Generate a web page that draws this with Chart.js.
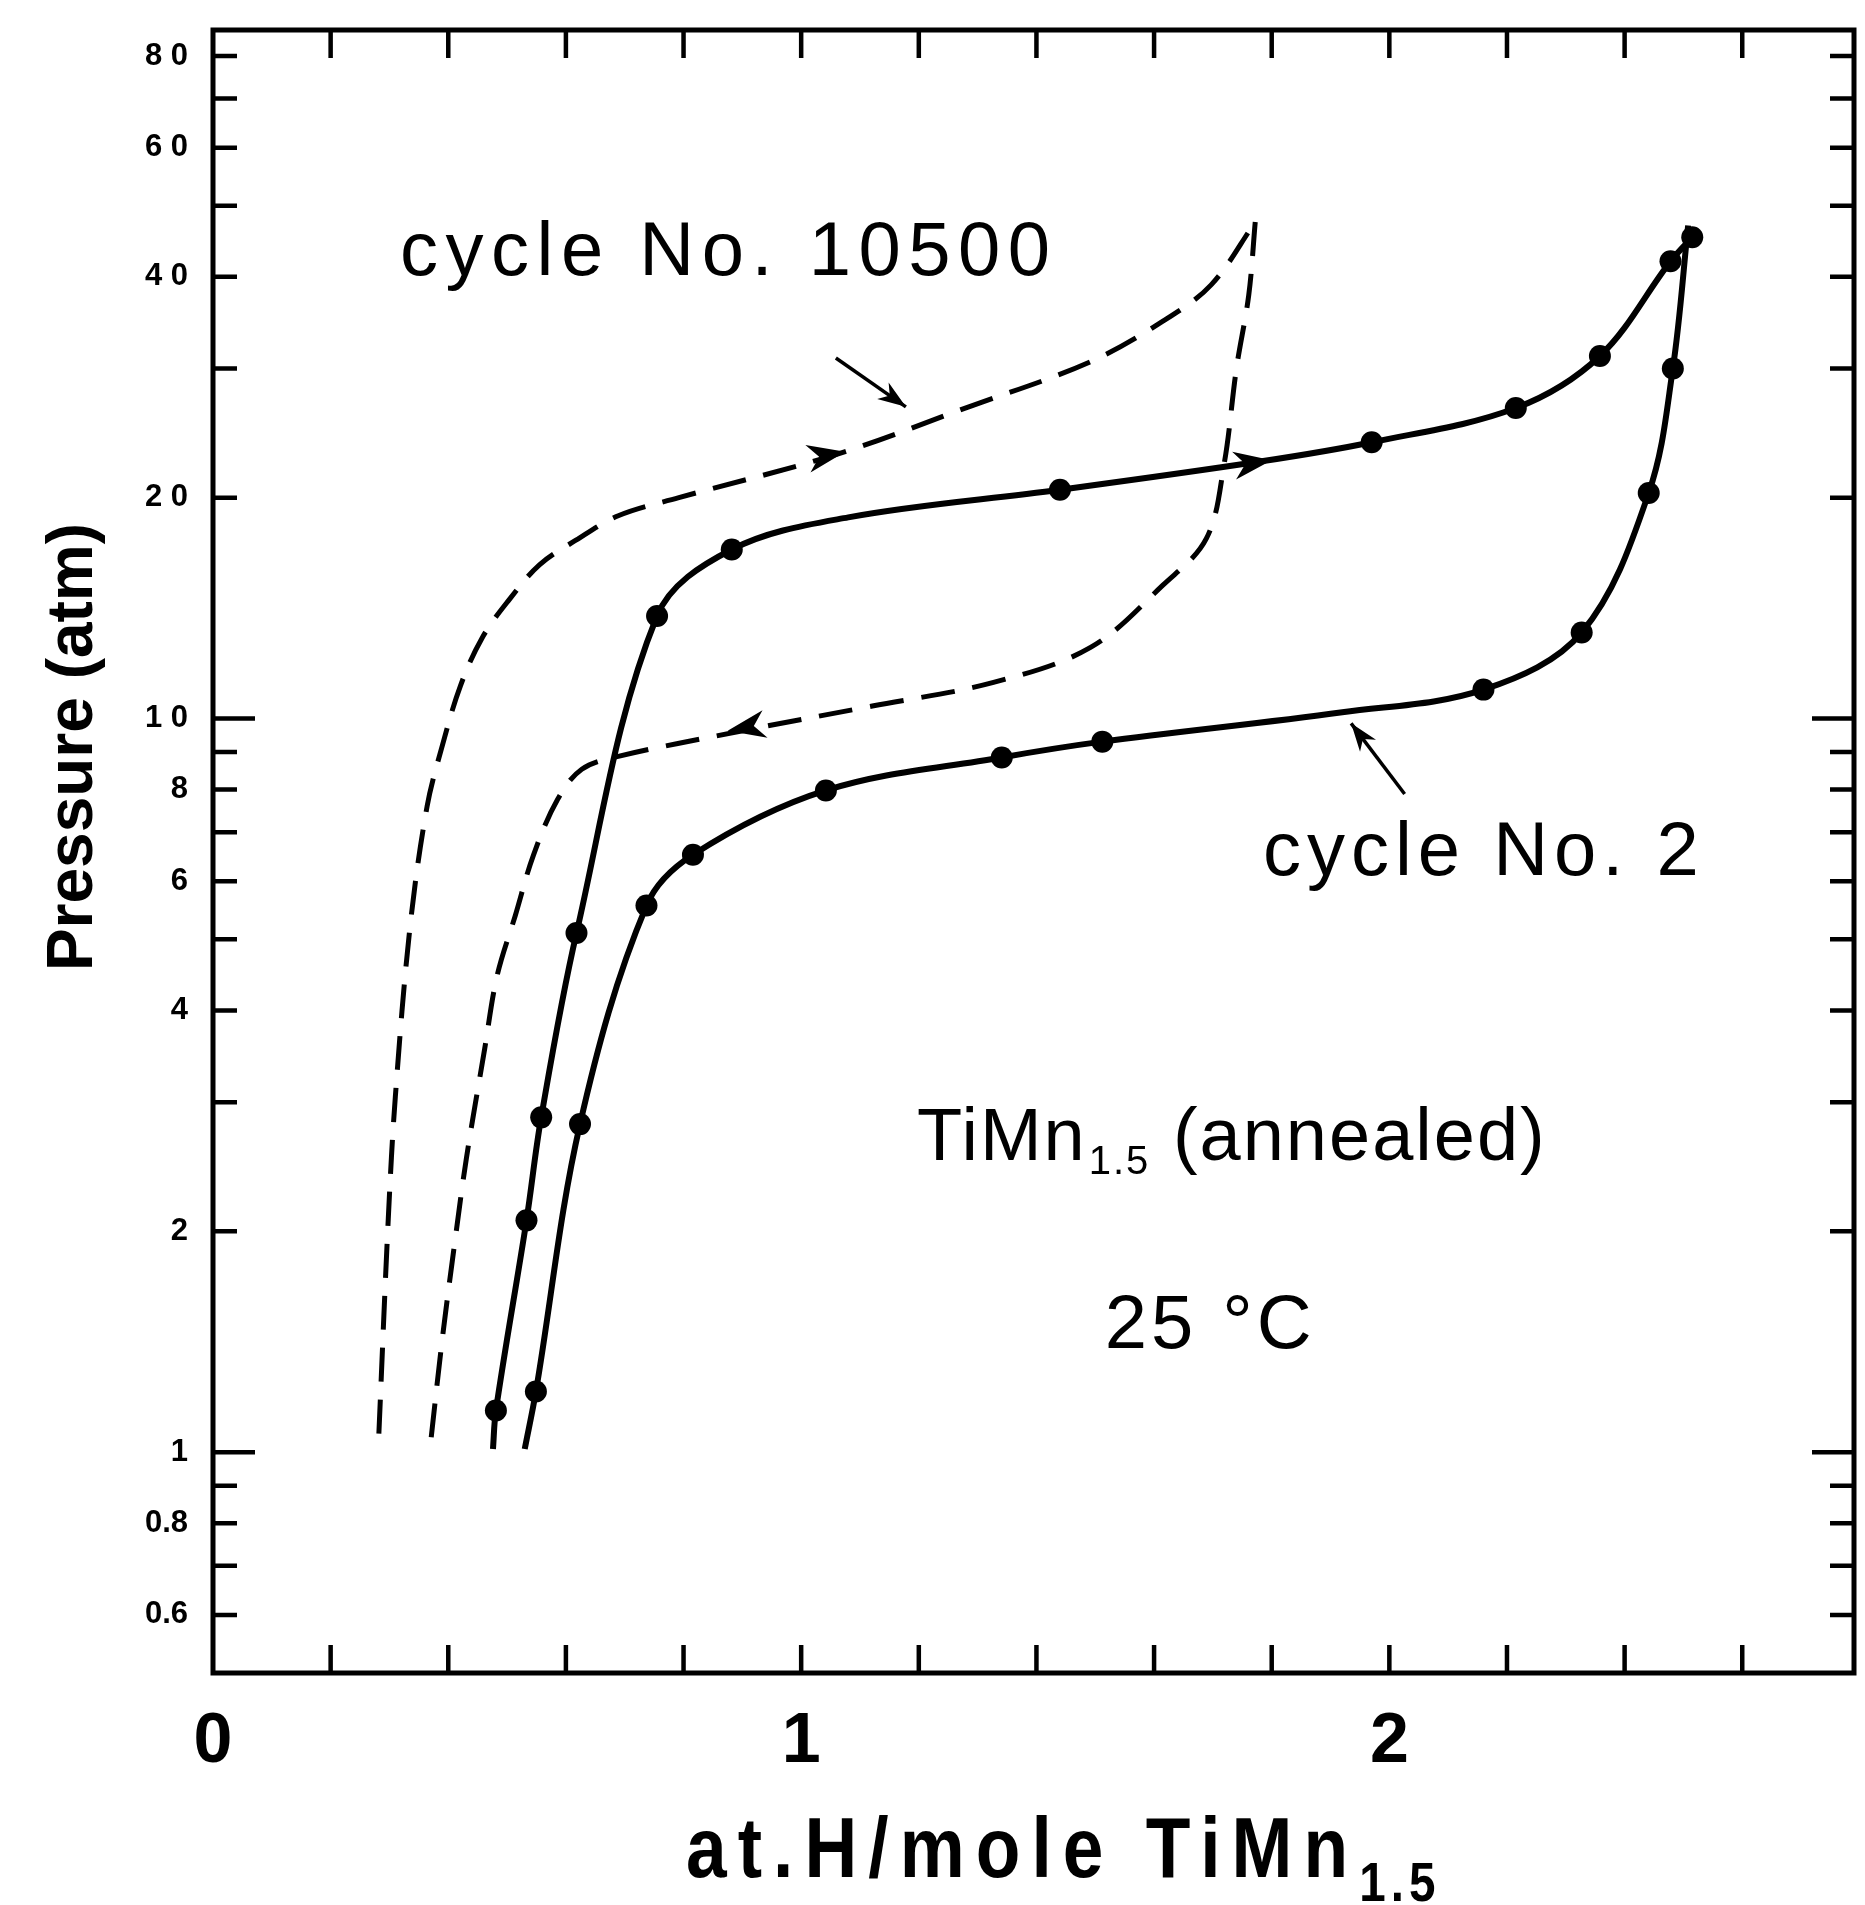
<!DOCTYPE html>
<html>
<head>
<meta charset="utf-8">
<title>TiMn1.5 P-C isotherms</title>
<script src="https://cdn.jsdelivr.net/npm/chart.js@4/dist/chart.umd.min.js"></script>
<style>
  html, body { margin: 0; padding: 0; background: #fff; }
  #wrap { width: 1865px; height: 1905px; }
</style>
</head>
<body>
<div id="wrap"><canvas id="chart" width="1865" height="1905"></canvas></div>
<script>
// cycle No. 2, absorption (solid, upper branch); dot = 1 where a data marker is drawn
const abs2X   = [0.476, 0.481, 0.533, 0.558, 0.618, 0.755, 0.882, 1.08, 1.440, 1.78, 1.970, 2.215, 2.358, 2.478, 2.515];
const abs2P   = [1.01,  1.14,  2.07,  2.86,  5.10,  13.8,  17.0,  18.8, 20.5,  22.4, 23.8,  26.5,  31.2,  42.0,  45.3];
const abs2Dot = [0,     1,     1,     1,     1,     1,     1,     0,    1,     0,    1,     1,     1,     1,     1];

// cycle No. 2, desorption (solid, lower branch)
const des2X   = [2.508, 2.482, 2.441, 2.327, 2.160, 1.92, 1.512, 1.341, 1.042, 0.816, 0.737, 0.624, 0.549, 0.530];
const des2P   = [47.0,  30.0,  20.3,  13.1,  10.95, 10.2, 9.30,  8.85,  7.98,  6.52,  5.56,  2.80,  1.21,  1.01];
const des2Dot = [0,     1,     1,     1,     1,     0,    1,     1,     1,     1,     1,     1,     1,     0];

// cycle No. 10500, absorption (dashed, upper branch)
const abs10500X = [0.282, 0.298, 0.310, 0.335, 0.364, 0.390, 0.421, 0.458, 0.503, 0.555, 0.617, 0.689, 0.792, 1.059, 1.285, 1.49, 1.615, 1.697, 1.772];
const abs10500P = [1.06,  2.08,  3.05,  5.20,  7.59,  9.19,  11.1,  12.9,  14.5,  16.2,  17.5,  18.9,  20.0,  22.9,  26.6,  30.6, 34.8,  39.0,  47.5];

// cycle No. 10500, desorption (dashed, lower branch)
const des10500X = [1.772, 1.761, 1.740, 1.719, 1.689, 1.615, 1.492, 1.327, 1.121, 0.894, 0.689, 0.627, 0.586, 0.545, 0.514, 0.483, 0.462, 0.431, 0.411, 0.390, 0.370];
const des10500P = [47.5,  37.8,  30.0,  22.2,  17.6,  15.2,  12.5,  11.2,  10.4,  9.60,  8.88,  8.53,  7.76,  6.52,  5.39,  4.46,  3.55,  2.52,  1.93,  1.43,  1.03];

// axes
const xTickValues = [0, 0.2, 0.4, 0.6, 0.8, 1, 1.2, 1.4, 1.6, 1.8, 2, 2.2, 2.4, 2.6];
const xTickLabels = ['0', '', '', '', '', '1', '', '', '', '', '2', '', '', ''];
const yTickValues = [0.6, 0.7, 0.8, 0.9, 1, 2, 3, 4, 5, 6, 7, 8, 9, 10, 20, 30, 40, 50, 60, 70, 80];
const yTickLabels = ['0.6', '', '0.8', '', '1', '2', '', '4', '', '6', '', '8', '', '1 0', '2 0', '', '4 0', '', '6 0', '', '8 0'];

// direction arrows on the curves (tip, and a point behind it on the curve)
const arrowTipX  = [1.80, 1.075, 0.875];
const arrowTipP  = [22.5, 23.1,  9.62];
const arrowTailX = [1.68, 0.96,  0.99];
const arrowTailP = [21.8, 22.2,  10.0];

// label pointers
const pointerFromX = [1.059, 2.026];
const pointerFromP = [31.0,  7.89];
const pointerToX   = [1.178, 1.935];
const pointerToP   = [26.6,  9.85];

// labels inside the plot
const noteText = ['cycle No. 10500', 'cycle No. 2', '25 °C'];
const noteX    = [0.318, 1.785, 1.516];
const noteP    = [40.2,  6.12,  1.385];

const FONT = '"Liberation Sans", Arial, sans-serif';

function pts(xs, ps) {
    return xs.map((x, i) => ({ x: x, y: ps[i] }));
}

function noPadding(scale) {
    scale.paddingTop = 0;
    scale.paddingBottom = 0;
    scale.paddingLeft = 0;
    scale.paddingRight = 0;
}

function arrowHead(ctx, tx, ty, bx, by, len, half) {
    const d = Math.hypot(tx - bx, ty - by) || 1;
    const ux = (tx - bx) / d, uy = (ty - by) / d;
    ctx.beginPath();
    ctx.moveTo(tx, ty);
    ctx.lineTo(tx - ux * len - uy * half, ty - uy * len + ux * half);
    ctx.lineTo(tx - ux * len * 0.7, ty - uy * len * 0.7);
    ctx.lineTo(tx - ux * len + uy * half, ty - uy * len - ux * half);
    ctx.closePath();
    ctx.fill();
}

const inkPlugin = {
    id: 'ink',
    afterDraw(chart) {
        const ctx = chart.ctx;
        const a = chart.chartArea;
        const xs = chart.scales.x, ys = chart.scales.y;
        ctx.save();
        ctx.strokeStyle = '#000';
        ctx.fillStyle = '#000';
        ctx.lineCap = 'butt';

        // frame
        ctx.lineWidth = 5;
        ctx.strokeRect(a.left, a.top, a.right - a.left, a.bottom - a.top);

        // inward ticks on all four sides
        ctx.lineWidth = 4.5;
        ctx.beginPath();
        xs.ticks.forEach(t => {
            const px = xs.getPixelForValue(t.value);
            if (px < a.left + 3) return;
            ctx.moveTo(px, a.bottom); ctx.lineTo(px, a.bottom - 28);
            ctx.moveTo(px, a.top);    ctx.lineTo(px, a.top + 28);
        });
        ys.ticks.forEach(t => {
            const py = ys.getPixelForValue(t.value);
            const len = (t.value === 1 || t.value === 10) ? 42 : 24;
            ctx.moveTo(a.left, py);  ctx.lineTo(a.left + len, py);
            ctx.moveTo(a.right, py); ctx.lineTo(a.right - len, py);
        });
        ctx.stroke();

        // arrows along the curves
        arrowTipX.forEach((v, i) => {
            arrowHead(ctx,
                xs.getPixelForValue(v), ys.getPixelForValue(arrowTipP[i]),
                xs.getPixelForValue(arrowTailX[i]), ys.getPixelForValue(arrowTailP[i]),
                38, 14);
        });

        // pointers from the labels
        ctx.lineWidth = 3.5;
        pointerFromX.forEach((v, i) => {
            const fx = xs.getPixelForValue(v), fy = ys.getPixelForValue(pointerFromP[i]);
            const tx = xs.getPixelForValue(pointerToX[i]), ty = ys.getPixelForValue(pointerToP[i]);
            ctx.beginPath(); ctx.moveTo(fx, fy); ctx.lineTo(tx, ty); ctx.stroke();
            arrowHead(ctx, tx, ty, fx, fy, 28, 10);
        });

        // labels
        ctx.textAlign = 'left';
        ctx.textBaseline = 'alphabetic';
        const spacing = ['7.5px', '6px', '4px'];
        noteText.forEach((s, i) => {
            ctx.font = '76px ' + FONT;
            ctx.letterSpacing = spacing[i];
            ctx.fillText(s, xs.getPixelForValue(noteX[i]), ys.getPixelForValue(noteP[i]));
        });

        // TiMn1.5 (annealed)
        ctx.letterSpacing = '2px';
        let cx = xs.getPixelForValue(1.197);
        const cy = ys.getPixelForValue(2.50);
        ctx.font = '74px ' + FONT;
        ctx.fillText('TiMn', cx, cy);
        cx += ctx.measureText('TiMn').width + 2;
        ctx.font = '40px ' + FONT;
        ctx.fillText('1.5', cx, cy + 14);
        cx += ctx.measureText('1.5').width;
        ctx.font = '74px ' + FONT;
        ctx.fillText(' (annealed)', cx, cy);

        // x axis title, condensed like the original lettering
        ctx.save();
        ctx.translate(686, 1877);
        ctx.scale(0.85, 1);
        ctx.font = 'bold 86px ' + FONT;
        ctx.letterSpacing = '13px';
        ctx.fillText('at.H/mole TiMn', 0, 0);
        const w = ctx.measureText('at.H/mole TiMn').width;
        ctx.font = 'bold 56px ' + FONT;
        ctx.letterSpacing = '6px';
        ctx.fillText('1.5', w, 24);
        ctx.restore();
        ctx.letterSpacing = '0px';

        // y axis title
        ctx.translate(92, 747);
        ctx.rotate(-Math.PI / 2);
        ctx.textAlign = 'center';
        ctx.font = 'bold 64px ' + FONT;
        ctx.fillText('Pressure (atm)', 0, 0);
        ctx.restore();
    }
};

new Chart(document.getElementById('chart'), {
    type: 'line',
    data: {
        datasets: [
            {
                data: pts(abs2X, abs2P),
                borderColor: '#000', borderWidth: 6, tension: 0.35,
                pointRadius: abs2Dot.map(d => d ? 11 : 0),
                pointBackgroundColor: '#000', pointBorderWidth: 0
            },
            {
                data: pts(des2X, des2P),
                borderColor: '#000', borderWidth: 6, tension: 0.35,
                pointRadius: des2Dot.map(d => d ? 11 : 0),
                pointBackgroundColor: '#000', pointBorderWidth: 0
            },
            {
                data: pts(abs10500X, abs10500P),
                borderColor: '#000', borderWidth: 5, borderDash: [34, 18],
                tension: 0.35, pointRadius: 0
            },
            {
                data: pts(des10500X, des10500P),
                borderColor: '#000', borderWidth: 5, borderDash: [34, 18],
                tension: 0.35, pointRadius: 0
            }
        ]
    },
    options: {
        responsive: false,
        animation: false,
        events: [],
        layout: { padding: { top: 30, right: 5, left: 0, bottom: 0 } },
        plugins: {
            legend: { display: false },
            tooltip: { enabled: false },
            title: { display: false }
        },
        scales: {
            x: {
                type: 'linear',
                min: 0,
                max: 2.79,
                grid: { display: false },
                border: { display: false },
                afterBuildTicks: scale => { scale.ticks = xTickValues.map(v => ({ value: v })); },
                afterFit: scale => { scale.height = 232; noPadding(scale); },
                ticks: {
                    autoSkip: false,
                    maxRotation: 0,
                    padding: 20,
                    color: '#000',
                    font: { family: FONT, size: 70, weight: 'bold' },
                    callback: (value, index) => xTickLabels[index]
                }
            },
            y: {
                type: 'logarithmic',
                min: 0.5,
                max: 86.8,
                grid: { display: false },
                border: { display: false },
                afterBuildTicks: scale => { scale.ticks = yTickValues.map(v => ({ value: v })); },
                afterFit: scale => { scale.width = 213; noPadding(scale); },
                ticks: {
                    autoSkip: false,
                    padding: 17,
                    color: '#000',
                    font: { family: FONT, size: 31, weight: 'bold' },
                    callback: (value, index) => yTickLabels[index]
                }
            }
        }
    },
    plugins: [inkPlugin]
});
</script>
</body>
</html>
